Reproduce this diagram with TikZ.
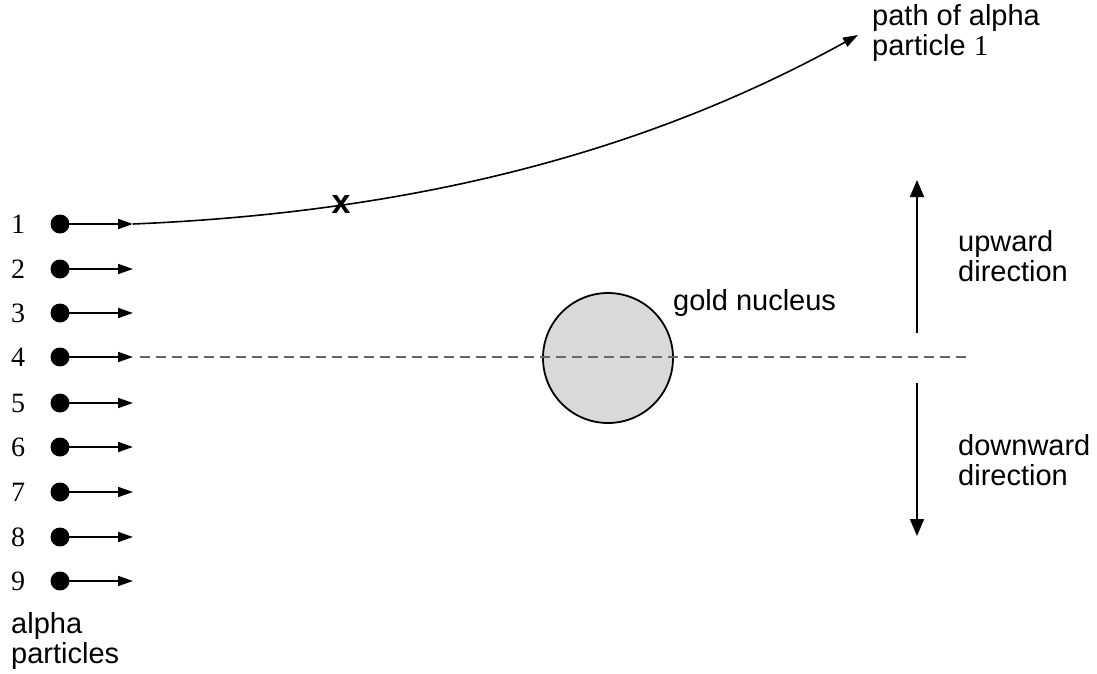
\documentclass[tikz,border=0pt]{standalone}
\usepackage{fontspec}
\setmainfont{Liberation Sans}
\newfontfamily\numfont{Liberation Serif}
\usetikzlibrary{arrows.meta}
\begin{document}
\begin{tikzpicture}[x=1pt,y=-1pt,
  lbl/.style={font=\fontsize{29}{30}\selectfont, align=left, inner sep=0pt},
  num/.style={font=\numfont\fontsize{28}{30}\selectfont, inner sep=0pt},
  dot/.style={circle, fill=black, minimum size=19pt, inner sep=0pt},
  arr/.style={line width=1.6pt, -{Triangle[length=15pt,width=10pt]}},
  bigarr/.style={line width=1.8pt, -{Triangle[length=17pt,width=14pt]}}]
\useasboundingbox (0,0) rectangle (1097,674);
% particles
\foreach \i/\y in {1/224,2/269,3/313,4/357,5/403,6/447,7/492,8/537,9/581}{
  \node[num] (n\i) at (18,\y) {\i};
  \node[dot] (d\i) at (60,\y) {};
  \coordinate (t\i) at (133,\y);
  \draw[arr] (d\i.center) -- (t\i);
}
% nucleus
\node[circle, draw=black, fill=black!15, line width=1.8pt, minimum size=130pt, inner sep=0pt] (nuc) at (608,358) {};
\node[lbl, anchor=west] (goldlbl) at (673,303) {gold nucleus};
% dashed axis
\coordinate (axL) at (140,357);
\coordinate (axR) at (968,357);
\draw[gray!80!black, line width=1.2pt, dash pattern=on 10pt off 6pt] (axL) -- (axR);
% path of particle 1
\coordinate (pend) at (858,35);
\draw[line width=1.6pt, -{Triangle[length=15pt,width=10pt]}] (t1) .. controls (420,212) and (650,150) .. (pend);
\node[font=\bfseries\fontsize{34}{34}\selectfont, inner sep=0pt] (xmark) at (341,205) {x};
\node[lbl, anchor=north west] (pathlbl) at (872,4) {path of alpha\\particle {\numfont 1}};
% direction arrows
\coordinate (ua) at (917,333);
\coordinate (ub) at (917,180);
\coordinate (da) at (917,383);
\coordinate (db) at (917,536);
\draw[bigarr] (ua) -- (ub);
\draw[bigarr] (da) -- (db);
\node[lbl, anchor=west] (uplbl) at (958,256) {upward\\direction};
\node[lbl, anchor=west] (downlbl) at (958,460) {downward\\direction};
\node[lbl, anchor=north west] (alphalbl) at (11,612) {alpha\\particles};
\end{tikzpicture}
\end{document}
